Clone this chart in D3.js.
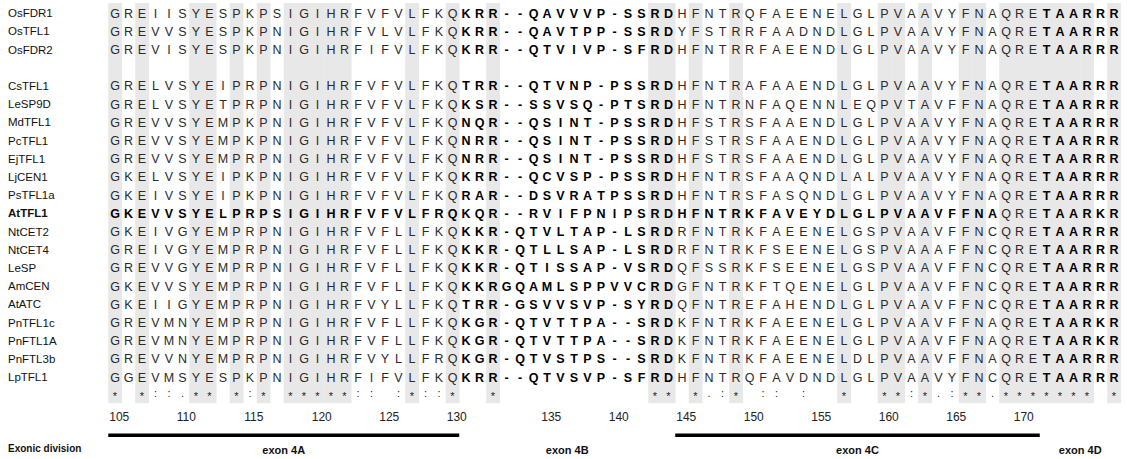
<!DOCTYPE html>
<html>
<head>
<meta charset="utf-8">
<script src="https://cdn.jsdelivr.net/npm/d3@7"></script>
<style>
  html, body { margin: 0; padding: 0; background: #fff; }
  svg { display: block; font-family: "Liberation Sans", Arial, Helvetica, sans-serif; }
</style>
</head>
<body>
<svg id="chart" width="1127" height="459"></svg>
<script>
// Protein sequences, exon 4 region of TFL1-like genes
const names = [
  "OsFDR1", "OsTFL1", "OsFDR2", null,
  "CsTFL1", "LeSP9D", "MdTFL1", "PcTFL1", "EjTFL1", "LjCEN1", "PsTFL1a",
  "AtTFL1", "NtCET2", "NtCET4", "LeSP", "AmCEN", "AtATC",
  "PnTFL1c", "PnFTL1A", "PnFTL3b", "LpTFL1"
];
const sequences = [
  "GREIISYESPKPSIGIHRFVFVLFKQKRR--QAVVVP-SSRDHFNTRQFAEENELGLPVAAVYFNAQRETAARRR",
  "GREVVSYESPKPNIGIHRFVLVLFKQKRR--QAVTPP-SSRDYFSTRRFAADNDLGLPVAAVYFNAQRETAARRR",
  "GREVISYESPKPNIGIHRFIFVLFKQKRR--QTVIVP-SFRDHFNTRRFAEENDLGLPVAAVYFNAQRETAARRR",
  null,
  "GRELVSYEIPRPNIGIHRFVFVLFKQTRR--QTVNP-PSSRDHFNTRAFAAENDLGLPVAAVYFNAQRETAARRR",
  "GRELVSYETPRPNIGIHRFVFVLFKQKSR--SSVSQ-PTSRDHFNTRNFAQENNLEQPVTAVFFNAQRETAARRR",
  "GREVVSYEMPKPNIGIHRFVFVLFKQNQR--QSINT-PSSRDHFSTRSFAAENDLGLPVAAVYFNAQRETAARRR",
  "GREVVSYEMPKPNIGIHRFVFVLFKQNRR--QSINT-PSSRDHFSTRSFAAENDLGLPVAAVYFNAQRETAARRR",
  "GREVVSYEMPRPNIGIHRFVFVLFKQNRR--QSINT-PSSRDHFSTRSFAAENDLGLPVAAVYFNAQRETAARRR",
  "GKELVSYEIPKPNIGIHRFVFVLFKQKRR--QCVSP-PSSRDHFNTRSFAAQNDLALPVAAVYFNAQRETAARRR",
  "GKEIVSYEIPKPNIGIHRFVFVLFKQRAR--DSVRATPSSRDHFNTRSFASQNDLGLPVAAVYFNAQRETAARRR",
  "GKEVVSYELPRPSIGIHRFVFVLFRQKQR--RVIFPNIPSRDHFNTRKFAVEYDLGLPVAAVFFNAQRETAARKR",
  "GKEIVGYEMPRPNIGIHRFVFLLFKQKKR-QTVLTAP-LSRDRFNTRKFAEENELGSPVAAVFFNCQRETAARRR",
  "GREIVGYEMPRPNIGIHRFVFLLFKQKKR-QTLLSAP-LSRDRFNTRKFSEENELGSPVAAAFFNCQRETAARRR",
  "GREVVGYEMPRPNIGIHRFVFLLFKQKKR-QTISSAP-VSRDQFSSRKFSEENELGSPVAAVFFNCQRETAARRR",
  "GKEVVSYEMPRPNIGIHRFVFLLFKQKKRGQAMLSPPVVCRDGFNTRKFTQENELGLPVAAVFFNCQRETAARRR",
  "GKEIIGYEMPRPNIGIHRFVYLLFKQTRR-GSVVSVP-SYRDQFNTREFAHENDLGLPVAAVFFNCQRETAARRR",
  "GREVMNYEMPRPNIGIHRFVFLLFKQKGR-QTVTTPA--SRDKFNTRKFAEENELGLPVAAVFFNAQRETAARKR",
  "GREVMNYEMPRPNIGIHRFVFLLFKQKGR-QTVTTPA--SRDKFNTRKFAEENELGLPVAAVFFNAQRETAARKR",
  "GREVVNYEMPRPNIGIHRFVYLLFRQKGR-QTVSTPS--SRDKFNTRKFAEENELDLPVAAVFFNAQRETAARRR",
  "GGEVMSYESPKPNIGIHRFIFVLFKQKRR--QTVSVP-SFRDHFNTRQFAVDNDLGLPVAAVYFNCQRETAARRR"
];
const consensus =
  "* *::.** *:* *****:: :*::*  *           ** *.:* :: :  *  **:*.:**.******* *";

// Residue numbers (AtTFL1 numbering) and the alignment column they sit on
const tickLabels  = ["105","110","115","120","125","130","135","140","145","150","155","160","165","170"];
const tickColumns = [0, 5, 10, 15, 20, 25, 32, 37, 42, 47, 52, 57, 62, 67];

// Exonic division
const exonLabels = ["exon 4A", "exon 4B", "exon 4C", "exon 4D"];
const exonFirst  = [0, 26, 42, 69];
const exonLast   = [25, 41, 68, 74];
const exonRule   = [true, false, true, false];

// Bold segments: hypervariable segment and C-terminal motif, plus the reference sequence
const boldSpans = [[26, 41], [69, 74]];
const refName = "AtTFL1";
const refPlain = [[66, 68]];

const nCols = sequences[0].length;
const svg = d3.select("#chart");

const x = d3.scaleBand()
  .domain(d3.range(nCols))
  .range([108.25, 108.25 + nCols * 13.5])
  .padding(0);

const rowKeys = d3.range(names.length + 1); // last row = consensus
const y = d3.scalePoint()
  .domain(rowKeys)
  .range([13, 13 + names.length * 18.2]);

const inSpan = (spans, c) => spans.some(([a, b]) => c >= a && c <= b);

// conserved columns shading
const conserved = d3.range(nCols).filter(c => consensus[c] === "*");
svg.append("g").selectAll("rect")
  .data(conserved)
  .join("rect")
  .attr("x", c => x(c))
  .attr("width", x.bandwidth() + 0.3)
  .attr("y", y(0) - 10)
  .attr("height", y(names.length) - y(0) + 18)
  .attr("fill", "#e8e8e8");

// sequence names
svg.append("g").selectAll("text")
  .data(names.map((n, i) => ({ n, i })).filter(d => d.n))
  .join("text")
  .attr("x", 8)
  .attr("y", d => y(d.i))
  .attr("dy", "0.36em")
  .attr("font-size", 11.5)
  .attr("font-weight", d => d.n === refName ? "bold" : "normal")
  .attr("fill", "#111")
  .text(d => d.n);

// residues
const cells = [];
sequences.forEach((s, r) => {
  if (!s) return;
  const isRef = names[r] === refName;
  for (let c = 0; c < s.length; c++) {
    const bold = isRef ? !inSpan(refPlain, c) : inSpan(boldSpans, c);
    cells.push({ r, c, ch: s[c], bold });
  }
});
svg.append("g").selectAll("text")
  .data(cells)
  .join("text")
  .attr("x", d => x(d.c) + x.bandwidth() / 2)
  .attr("y", d => y(d.r))
  .attr("dy", "0.36em")
  .attr("text-anchor", "middle")
  .attr("font-size", 12.5)
  .attr("font-weight", d => d.bold ? "bold" : "normal")
  .attr("fill", d => d.bold ? "#000" : "#2a2a2a")
  .text(d => d.ch);

// consensus symbols
const consRow = names.length;
svg.append("g").selectAll("text")
  .data(d3.range(nCols).filter(c => consensus[c] !== " "))
  .join("text")
  .attr("x", c => x(c) + x.bandwidth() / 2)
  .attr("y", c => y(consRow) + (consensus[c] === "*" ? 3 : 0))
  .attr("dy", "0.2em")
  .attr("text-anchor", "middle")
  .attr("font-size", c => consensus[c] === "*" ? 11 : 11)
  .attr("fill", "#222")
  .text(c => consensus[c]);

// residue numbering
const numY = y(consRow) + 21;
svg.append("g").selectAll("text")
  .data(tickLabels.map((t, i) => ({ t, c: tickColumns[i] })))
  .join("text")
  .attr("x", d => x(d.c) + 1)
  .attr("y", numY)
  .attr("dy", "0.36em")
  .attr("font-size", 12)
  .attr("fill", "#222")
  .text(d => d.t);

// exonic division
const ruleY = numY + 19;
const labelY = ruleY + 15;
svg.append("text")
  .attr("x", 8)
  .attr("y", labelY - 2)
  .attr("dy", "0.36em")
  .attr("font-size", 10)
  .attr("font-weight", "bold")
  .attr("fill", "#111")
  .text("Exonic division");

const exons = exonLabels.map((l, i) => ({ l, a: exonFirst[i], b: exonLast[i], rule: exonRule[i] }));
svg.append("g").selectAll("line")
  .data(exons.filter(e => e.rule))
  .join("line")
  .attr("x1", e => x(e.a))
  .attr("x2", e => x(e.b) + x.bandwidth())
  .attr("y1", ruleY)
  .attr("y2", ruleY)
  .attr("stroke", "#000")
  .attr("stroke-width", 3.5);

svg.append("g").selectAll("text")
  .data(exons)
  .join("text")
  .attr("x", e => (x(e.a) + x(e.b) + x.bandwidth()) / 2)
  .attr("y", labelY)
  .attr("dy", "0.36em")
  .attr("text-anchor", "middle")
  .attr("font-size", 11)
  .attr("font-weight", "bold")
  .attr("fill", "#111")
  .text(e => e.l);
</script>
</body>
</html>
